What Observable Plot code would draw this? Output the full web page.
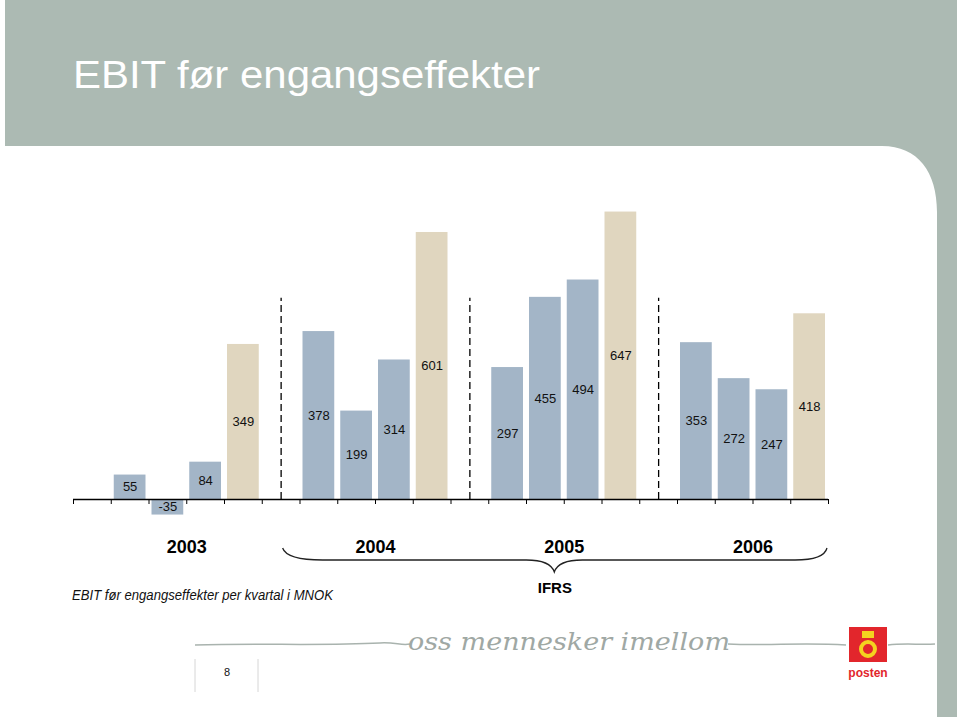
<!DOCTYPE html>
<html>
<head>
<meta charset="utf-8">
<script src="https://cdn.jsdelivr.net/npm/d3@7"></script>
<script src="https://cdn.jsdelivr.net/npm/@observablehq/plot@0.6"></script>
<style>
  html, body { margin: 0; padding: 0; background: #fff; }
  #page { position: relative; width: 960px; height: 717px; overflow: hidden; font-family: "Liberation Sans", Arial, sans-serif; }
  #bg { position: absolute; left: 0; top: 0; }
  #chart { position: absolute; left: 0; top: 150px; }
</style>
</head>
<body>
<div id="page">
  <svg id="bg" width="960" height="717" xmlns="http://www.w3.org/2000/svg">
    <path fill="#acbab3" d="M5,0 H957 V717 H937 V212 C937,172 918,146 882,146 H5 Z"/>
    <text x="73" y="88" font-size="38" fill="#ffffff" textLength="467" lengthAdjust="spacingAndGlyphs"
          font-family="Liberation Sans, Arial, sans-serif">EBIT før engangseffekter</text>
    <text x="72" y="600" font-size="15" font-style="italic" fill="#111" textLength="261" lengthAdjust="spacingAndGlyphs"
          font-family="Liberation Sans, Arial, sans-serif">EBIT før engangseffekter per kvartal i MNOK</text>
    <!-- footer -->
    <path d="M195,645 C260,643 320,646 380,643 C395,642 402,646 410,644 M728,644 C770,646 800,642 846,645 M888,645 C905,643 920,645 935,644"
          fill="none" stroke="#a9b3ae" stroke-width="1.5"/>
    <text x="408" y="650" font-size="24" font-style="italic" fill="#9fa8a4" textLength="322" lengthAdjust="spacingAndGlyphs"
          font-family="DejaVu Serif, serif">oss mennesker imellom</text>
    <line x1="195" y1="659" x2="195" y2="692" stroke="#d6d6d6" stroke-width="1"/>
    <line x1="258" y1="659" x2="258" y2="692" stroke="#d6d6d6" stroke-width="1"/>
    <text x="227" y="676" font-size="11" text-anchor="middle" fill="#111" font-family="Liberation Sans, Arial, sans-serif">8</text>
    <rect x="849" y="627" width="38" height="35" fill="#e2262c"/>
    <rect x="862" y="631" width="12" height="7" fill="#f4d21f"/>
    <circle cx="868" cy="649" r="7" fill="none" stroke="#f4d21f" stroke-width="4"/>
    <text x="868" y="677" font-size="12" font-weight="bold" text-anchor="middle" fill="#e2262c" font-family="Liberation Sans, Arial, sans-serif">posten</text>
  </svg>
  <div id="chart"></div>
</div>
<script>
// ---- data ----
const years = ["2003", "2004", "2005", "2006"];
const quarters = ["1. kvartal", "2. kvartal", "3. kvartal", "4. kvartal"];
const ebit2003 = [55, -35, 84, 349];
const ebit2004 = [378, 199, 314, 601];
const ebit2005 = [297, 455, 494, 647];
const ebit2006 = [353, 272, 247, 418];
const bracketLabel = "IFRS";

// ---- build table ----
const series = [ebit2003, ebit2004, ebit2005, ebit2006];
const slotsPerYear = quarters.length + 1; // one empty slot between years
const rows = [];
series.forEach((vals, yi) => {
  vals.forEach((v, qi) => {
    const slot = 1 + yi * slotsPerYear + qi;
    rows.push({year: years[yi], quarter: quarters[qi], value: v, x1: slot, x2: slot + 1, q4: qi === quarters.length - 1});
  });
});
const xMax = years.length * slotsPerYear;
const separators = years.slice(1).map((_, k) => (k + 1) * slotsPerYear + 0.5);
const yearCenters = years.map((_, i) => 1 + i * slotsPerYear + quarters.length / 2);
const braceStart = separators[0];
const braceEnd = xMax;
const braceMid = (braceStart + braceEnd) / 2;
const separatorTop = 453;

const blue = "#a3b5c7";
const beige = "#e0d6bf";

// brace drawn from the x scale, below the axis
function brace(index, scales, values, dimensions) {
  const x0 = scales.x(braceStart) + 2;
  const x1 = scales.x(braceEnd) - 1;
  const xm = scales.x(braceMid);
  const base = dimensions.height - dimensions.marginBottom;
  const y0 = base + 49, yh = base + 61, yp = base + 73;
  const p = d3.path();
  p.moveTo(x0, y0);
  p.quadraticCurveTo(x0 + 4, yh, x0 + 40, yh);
  p.lineTo(xm - 28, yh);
  p.quadraticCurveTo(xm - 4, yh, xm, yp);
  p.quadraticCurveTo(xm + 4, yh, xm + 28, yh);
  p.lineTo(x1 - 32, yh);
  p.quadraticCurveTo(x1 - 3, yh, x1, y0);
  return d3.create("svg:path")
    .attr("d", p.toString())
    .attr("fill", "none")
    .attr("stroke", "#222")
    .attr("stroke-width", 1.3)
    .node();
}

const chart = Plot.plot({
  width: 940,
  height: 460,
  marginLeft: 73,
  marginRight: 112,
  marginTop: 38,
  marginBottom: 111,
  style: {fontFamily: "Liberation Sans, Arial, sans-serif", background: "transparent", overflow: "visible", color: "#000"},
  x: {domain: [0, xMax], ticks: xMax, tickFormat: () => "", tickSize: 5, label: null},
  y: {domain: [0, 700], axis: null},
  marks: [
    Plot.ruleX(separators, {x: d => d, y1: 0, y2: separatorTop, stroke: "#000", strokeWidth: 1.3, strokeDasharray: "7,4"}),
    Plot.rect(rows, {x1: "x1", x2: "x2", y1: 0, y2: "value", fill: d => d.q4 ? beige : blue, insetLeft: 3, insetRight: 3}),
    Plot.ruleY([0], {stroke: "#000", strokeWidth: 1.5}),
    Plot.text(rows, {x: d => (d.x1 + d.x2) / 2, y: d => d.value / 2, text: d => String(d.value), fontSize: 13, fill: "#111"}),
    Plot.text(years, {x: (d, i) => yearCenters[i], text: d => d, frameAnchor: "bottom", lineAnchor: "bottom", dy: 53, fontSize: 18, fontWeight: "bold", fill: "#000"}),
    brace,
    Plot.text([bracketLabel], {x: () => braceMid, text: d => d, frameAnchor: "bottom", lineAnchor: "bottom", dy: 93, fontSize: 15, fontWeight: "bold", fill: "#000"})
  ]
});
document.getElementById("chart").appendChild(chart);
</script>
</body>
</html>
